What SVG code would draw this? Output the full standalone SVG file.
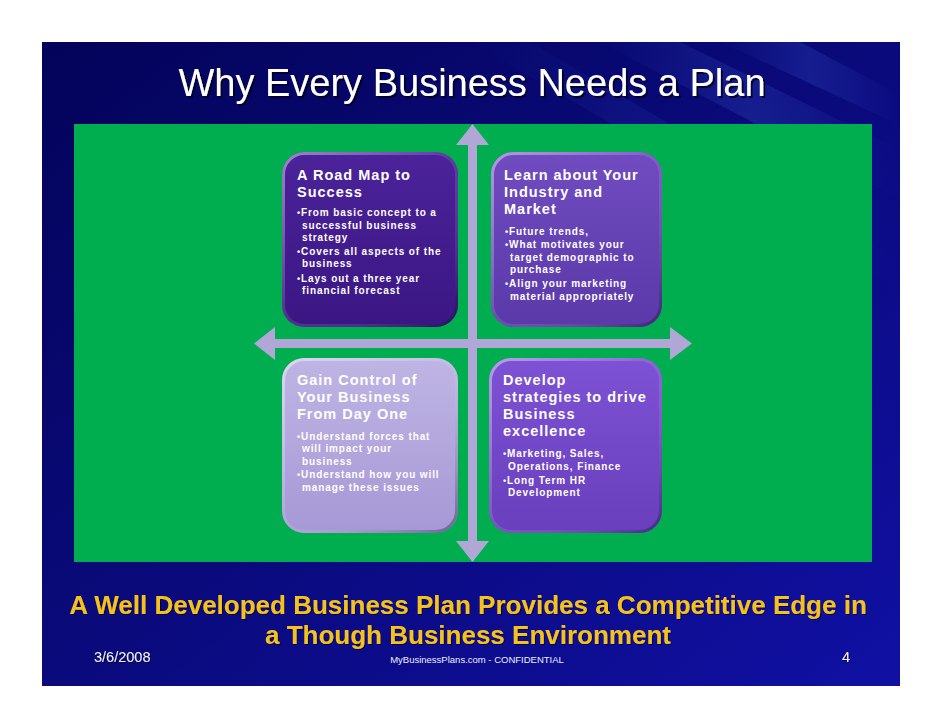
<svg xmlns="http://www.w3.org/2000/svg" width="942" height="728" viewBox="0 0 942 728">
  <defs>
    <linearGradient id="slideBg" x1="0" y1="0" x2="1" y2="1">
      <stop offset="0" stop-color="#03035a"/>
      <stop offset="0.5" stop-color="#0a0a7c"/>
      <stop offset="1" stop-color="#1010a4"/>
    </linearGradient>
    <linearGradient id="streak" x1="0" y1="0" x2="1" y2="0">
      <stop offset="0" stop-color="#3a5ad0" stop-opacity="0"/>
      <stop offset="0.5" stop-color="#3a5ad0" stop-opacity="0.25"/>
      <stop offset="1" stop-color="#3a5ad0" stop-opacity="0"/>
    </linearGradient>
    <linearGradient id="gTL" x1="0" y1="0" x2="0" y2="1">
      <stop offset="0" stop-color="#4c239a"/>
      <stop offset="1" stop-color="#3a1683"/>
    </linearGradient>
    <linearGradient id="gTR" x1="0" y1="0" x2="0" y2="1">
      <stop offset="0" stop-color="#704cc0"/>
      <stop offset="1" stop-color="#5b39a9"/>
    </linearGradient>
    <linearGradient id="gBL" x1="0" y1="0" x2="0" y2="1">
      <stop offset="0" stop-color="#bfb5e4"/>
      <stop offset="1" stop-color="#a698d5"/>
    </linearGradient>
    <linearGradient id="gBR" x1="0" y1="0" x2="0" y2="1">
      <stop offset="0" stop-color="#7d52d4"/>
      <stop offset="1" stop-color="#693fbd"/>
    </linearGradient>
    <linearGradient id="rim" x1="0" y1="0" x2="1" y2="1">
      <stop offset="0" stop-color="#ffffff" stop-opacity="0.45"/>
      <stop offset="0.5" stop-color="#ffffff" stop-opacity="0.1"/>
      <stop offset="1" stop-color="#000020" stop-opacity="0.35"/>
    </linearGradient>
    <filter id="shadow" x="-5%" y="-20%" width="110%" height="150%">
      <feDropShadow dx="2" dy="2" stdDeviation="0.6" flood-color="#000028" flood-opacity="0.9"/>
    </filter>
    <filter id="shadowSm" x="-5%" y="-20%" width="110%" height="150%">
      <feDropShadow dx="1" dy="1" stdDeviation="0.5" flood-color="#000028" flood-opacity="0.7"/>
    </filter>
  </defs>
  <style>
    .title { font-family: "Liberation Sans", Arial, sans-serif; font-size: 38px; fill: #ffffff; }
    .btitle { font-family: "Liberation Sans", Arial, sans-serif; font-size: 14.5px; font-weight: bold; letter-spacing: 1px; fill: #ffffff; }
    .bul { font-family: "Liberation Sans", Arial, sans-serif; font-size: 10px; font-weight: bold; letter-spacing: 0.9px; fill: #ffffff; }
    .dot { font-size: 9px; }
    .tag { font-family: "Liberation Sans", Arial, sans-serif; font-size: 26px; font-weight: bold; fill: #f5c11e; }
    .foot { font-family: "Liberation Sans", Arial, sans-serif; fill: #eeeefa; }
    .arrow { fill: #b1a7d7; }
    .box { stroke: url(#rim); stroke-width: 3; }
  </style>

  <rect x="0" y="0" width="942" height="728" fill="#ffffff"/>

  <g id="slide">
    <rect x="42" y="42" width="858" height="644" fill="url(#slideBg)"/>
    <polygon points="600,42 680,42 900,150 900,200" fill="url(#streak)"/>
    <polygon points="720,42 800,42 900,95 900,125" fill="url(#streak)"/>
    <polygon points="470,42 530,42 900,260 900,290" fill="url(#streak)" opacity="0.6"/>
  </g>

  <g id="title">
    <text class="title" x="472" y="96" text-anchor="middle" filter="url(#shadow)">Why Every Business Needs a Plan</text>
  </g>

  <g id="panel">
    <rect x="74" y="124" width="798" height="438" fill="#00ae50"/>
  </g>

  <g id="connectors">
    <rect class="arrow" x="468" y="144" width="9" height="398"/>
    <polygon class="arrow" points="456,145 472.5,124 489,145"/>
    <polygon class="arrow" points="456,541 472.5,562 489,541"/>
    <rect class="arrow" x="274" y="339" width="397" height="9"/>
    <polygon class="arrow" points="275,327 254,343.5 275,360"/>
    <polygon class="arrow" points="670,327 692,343.5 670,360"/>
  </g>

  <g id="node-roadmap">
    <rect x="282" y="152" width="176" height="175" rx="22" fill="url(#gTL)"/>
    <rect class="box" x="283.5" y="153.5" width="173" height="172" rx="21" fill="none"/>
    <text class="btitle" x="297" y="180">A Road Map to</text>
    <text class="btitle" x="297" y="197">Success</text>
    <text class="bul" x="297" y="216"><tspan class="dot">•</tspan>From basic concept to a</text>
    <text class="bul" x="302" y="229">successful business</text>
    <text class="bul" x="302" y="241">strategy</text>
    <text class="bul" x="297" y="255"><tspan class="dot">•</tspan>Covers all aspects of the</text>
    <text class="bul" x="302" y="267">business</text>
    <text class="bul" x="297" y="282"><tspan class="dot">•</tspan>Lays out a three year</text>
    <text class="bul" x="302" y="294">financial forecast</text>
  </g>

  <g id="node-industry">
    <rect x="491" y="152" width="171" height="175" rx="22" fill="url(#gTR)"/>
    <rect class="box" x="492.5" y="153.5" width="168" height="172" rx="21" fill="none"/>
    <text class="btitle" x="504" y="180">Learn about Your</text>
    <text class="btitle" x="504" y="197">Industry and</text>
    <text class="btitle" x="504" y="214">Market</text>
    <text class="bul" x="505" y="235"><tspan class="dot">•</tspan>Future trends,</text>
    <text class="bul" x="505" y="248"><tspan class="dot">•</tspan>What motivates your</text>
    <text class="bul" x="510" y="261">target demographic to</text>
    <text class="bul" x="510" y="273">purchase</text>
    <text class="bul" x="505" y="287"><tspan class="dot">•</tspan>Align your marketing</text>
    <text class="bul" x="510" y="300">material appropriately</text>
  </g>

  <g id="node-control">
    <rect x="282" y="358" width="176" height="175" rx="22" fill="url(#gBL)"/>
    <rect class="box" x="283.5" y="359.5" width="173" height="172" rx="21" fill="none"/>
    <text class="btitle" x="297" y="385">Gain Control of</text>
    <text class="btitle" x="297" y="402">Your Business</text>
    <text class="btitle" x="297" y="419">From Day One</text>
    <text class="bul" x="297" y="440"><tspan class="dot">•</tspan>Understand forces that</text>
    <text class="bul" x="302" y="452">will impact your</text>
    <text class="bul" x="302" y="465">business</text>
    <text class="bul" x="297" y="478"><tspan class="dot">•</tspan>Understand how you will</text>
    <text class="bul" x="302" y="491">manage these issues</text>
  </g>

  <g id="node-strategies">
    <rect x="489" y="358" width="173" height="175" rx="22" fill="url(#gBR)"/>
    <rect class="box" x="490.5" y="359.5" width="170" height="172" rx="21" fill="none"/>
    <text class="btitle" x="503" y="385">Develop</text>
    <text class="btitle" x="503" y="402">strategies to drive</text>
    <text class="btitle" x="503" y="419">Business</text>
    <text class="btitle" x="503" y="436">excellence</text>
    <text class="bul" x="503" y="457"><tspan class="dot">•</tspan>Marketing, Sales,</text>
    <text class="bul" x="508" y="470">Operations, Finance</text>
    <text class="bul" x="503" y="484"><tspan class="dot">•</tspan>Long Term HR</text>
    <text class="bul" x="508" y="496">Development</text>
  </g>

  <g id="tagline">
    <text class="tag" x="468" y="614" text-anchor="middle" filter="url(#shadowSm)">A Well Developed Business Plan Provides a Competitive Edge in</text>
    <text class="tag" x="468" y="644" text-anchor="middle" filter="url(#shadowSm)">a Though Business Environment</text>
  </g>

  <g id="footer">
    <text class="foot" x="94" y="662" font-size="14.5px" filter="url(#shadowSm)">3/6/2008</text>
    <text class="foot" x="477" y="663" font-size="9.5px" text-anchor="middle">MyBusinessPlans.com - CONFIDENTIAL</text>
    <text class="foot" x="842" y="662" font-size="14.5px" filter="url(#shadowSm)">4</text>
  </g>
</svg>
